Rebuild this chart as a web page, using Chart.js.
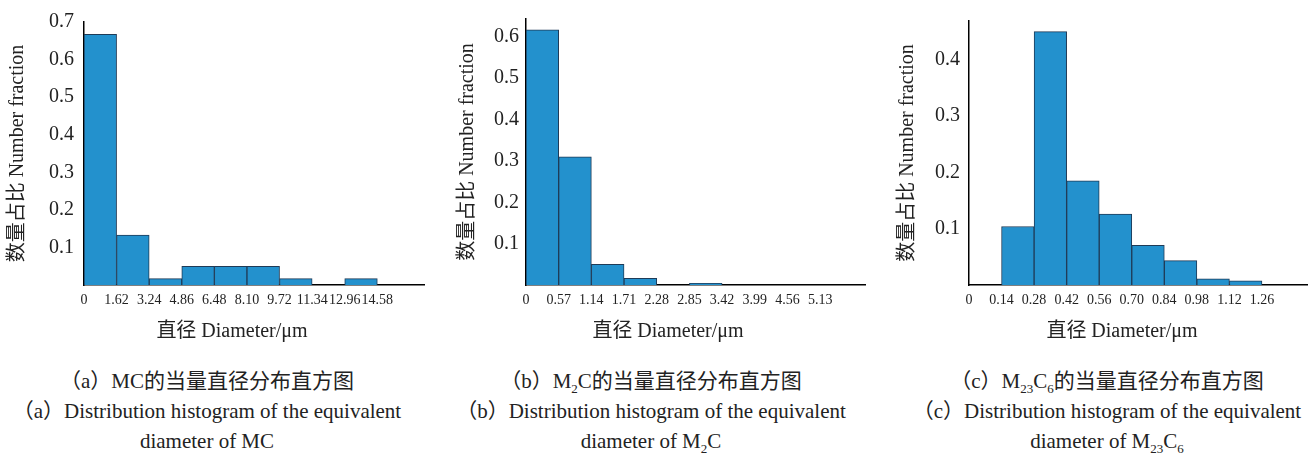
<!DOCTYPE html>
<html>
<head>
<meta charset="utf-8">
<script src="https://cdn.jsdelivr.net/npm/chart.js@4/dist/chart.umd.min.js"></script>
<style>
  body { margin: 0; background: #fff; width: 1313px; height: 456px; position: relative; overflow: hidden;
         font-family: "Liberation Serif", "Noto Sans CJK SC", serif; color: #222; }
  .box { position: absolute; top: 0; height: 345px; }
  .xtitle { position: absolute; top: 317px; width: 240px; text-align: center; font-size: 20px; line-height: 26px; }
  .cap { position: absolute; top: 366px; width: 460px; text-align: center; font-size: 21px; line-height: 30px; white-space: nowrap; }
  .cap sub { font-size: 13px; vertical-align: -5px; line-height: 0; }
</style>
</head>
<body>
<div class="box" style="left:0;width:425px"><canvas id="chartA"></canvas></div>
<div class="box" style="left:450px;width:416px"><canvas id="chartB"></canvas></div>
<div class="box" style="left:890px;width:418px"><canvas id="chartC"></canvas></div>

<div class="xtitle" style="left:112px">直径 Diameter/μm</div>
<div class="xtitle" style="left:548px">直径 Diameter/μm</div>
<div class="xtitle" style="left:1002px">直径 Diameter/μm</div>

<div class="cap" style="left:-23px">（a）MC的当量直径分布直方图<br>（a）Distribution histogram of the equivalent<br>diameter of MC</div>
<div class="cap" style="left:421px">（b）M<sub>2</sub>C的当量直径分布直方图<br>（b）Distribution histogram of the equivalent<br>diameter of M<sub>2</sub>C</div>
<div class="cap" style="left:877px">（c）M<sub>23</sub>C<sub>6</sub>的当量直径分布直方图<br>（c）Distribution histogram of the equivalent<br>diameter of M<sub>23</sub>C<sub>6</sub></div>

<script>
// ===== data =====
// (a) MC
const edgesA = [0, 1.62, 3.24, 4.86, 6.48, 8.10, 9.72, 11.34, 12.96, 14.58];
const edgeLabelsA = ["0", "1.62", "3.24", "4.86", "6.48", "8.10", "9.72", "11.34", "12.96", "14.58"];
const fractionA = [0.667, 0.133, 0.017, 0.05, 0.05, 0.05, 0.017, 0, 0.017];
const yTicksA = [0.1, 0.2, 0.3, 0.4, 0.5, 0.6, 0.7];

// (b) M2C
const edgesB = [0, 0.57, 1.14, 1.71, 2.28, 2.85, 3.42, 3.99, 4.56, 5.13];
const edgeLabelsB = ["0", "0.57", "1.14", "1.71", "2.28", "2.85", "3.42", "3.99", "4.56", "5.13"];
const fractionB = [0.617, 0.310, 0.050, 0.016, 0, 0.004, 0, 0, 0, 0];
const yTicksB = [0.1, 0.2, 0.3, 0.4, 0.5, 0.6];

// (c) M23C6
const edgesC = [0, 0.14, 0.28, 0.42, 0.56, 0.70, 0.84, 0.98, 1.12, 1.26];
const edgeLabelsC = ["0", "0.14", "0.28", "0.42", "0.56", "0.70", "0.84", "0.98", "1.12", "1.26"];
const fractionC = [0, 0.104, 0.450, 0.185, 0.126, 0.0705, 0.0434, 0.011, 0.0075];
const yTicksC = [0.1, 0.2, 0.3, 0.4];

const barFill = "#2391cd";
const barEdge = "#1f3b57";
const textColor = "#222";
const fontFamily = "'Liberation Serif', 'Noto Sans CJK SC', serif";

function makeHist(id, edges, edgeLabels, values, yTicks, opt) {
  const step = edges[1] - edges[0];
  // each bin drawn at its centre on a linear x axis
  const points = values.map((v, i) => ({ x: edges[i] + step / 2, y: v }));

  return new Chart(document.getElementById(id), {
    type: "bar",
    data: {
      datasets: [{
        data: points,
        backgroundColor: barFill,
        borderColor: barEdge,
        borderWidth: 1,
        barPercentage: 1,
        categoryPercentage: 1
      }]
    },
    options: {
      responsive: true,
      maintainAspectRatio: false,
      animation: false,
      layout: { padding: { top: opt.top, right: 0, bottom: 0, left: 0 } },
      plugins: { legend: { display: false }, tooltip: { enabled: false } },
      scales: {
        x: {
          type: "linear",
          min: 0,
          max: opt.xMax,
          offset: false,
          grid: { display: false, drawTicks: false },
          border: { display: true, color: "#000", width: 1.5 },
          afterBuildTicks: s => { s.ticks = edges.map(v => ({ value: v })); },
          afterFit: s => { s.height = 60; },
          ticks: {
            autoSkip: false,
            maxRotation: 0,
            padding: 7,
            color: textColor,
            font: { family: fontFamily, size: 14 },
            callback: (v, i) => edgeLabels[i]
          }
        },
        y: {
          min: 0,
          max: opt.yMax,
          grid: { display: false, drawTicks: false },
          border: { display: true, color: "#000", width: 1.5 },
          afterBuildTicks: s => { s.ticks = yTicks.map(v => ({ value: v })); },
          afterFit: s => { s.width = opt.yWidth; },
          ticks: {
            padding: opt.tickPad,
            color: textColor,
            font: { family: fontFamily, size: 20 },
            callback: v => v.toFixed(1)
          },
          title: {
            display: true,
            text: "数量占比 Number fraction",
            color: textColor,
            padding: { top: 6, bottom: 0 },
            font: { family: fontFamily, size: 20 }
          }
        }
      }
    }
  });
}

makeHist("chartA", edgesA, edgeLabelsA, fractionA, yTicksA, { xMax: 16.95, yMax: 0.7, yWidth: 84, top: 14, tickPad: 10 });
makeHist("chartB", edgesB, edgeLabelsB, fractionB, yTicksB, { xMax: 5.93, yMax: 0.643, yWidth: 76, top: 15, tickPad: 7 });
makeHist("chartC", edgesC, edgeLabelsC, fractionC, yTicksC, { xMax: 1.458, yMax: 0.469, yWidth: 79, top: 15, tickPad: 9 });
</script>
</body>
</html>
